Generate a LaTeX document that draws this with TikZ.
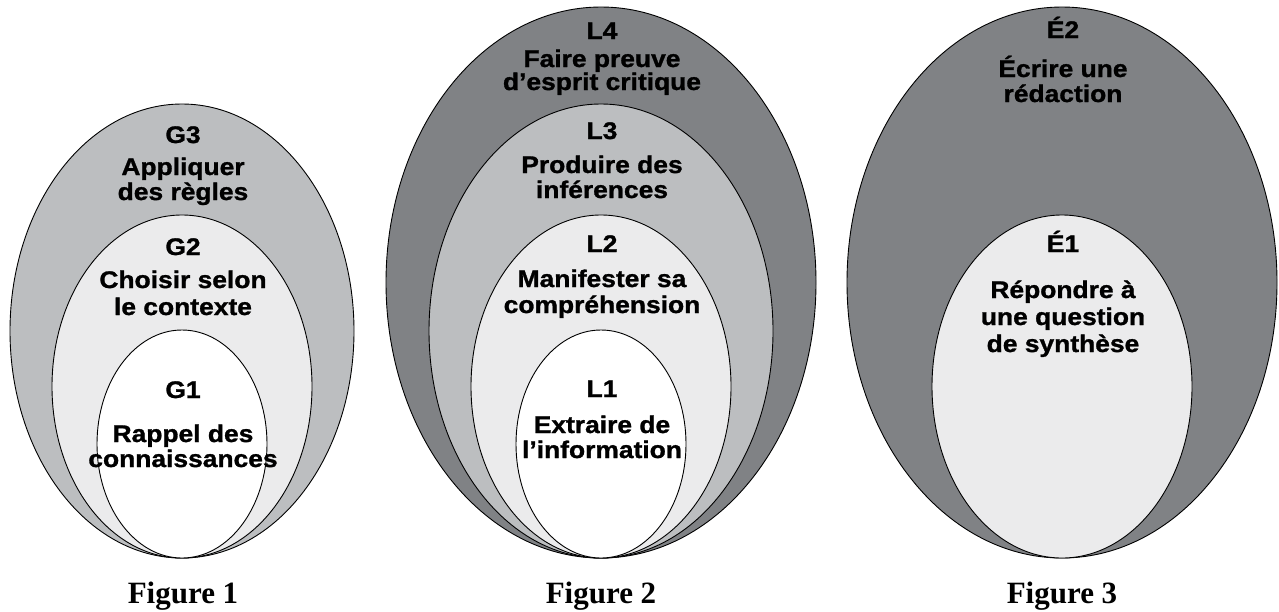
\documentclass[tikz,border=0pt]{standalone}
\usepackage{fontspec}
\setmainfont{Liberation Serif}
\newfontfamily\lblfont{Liberation Sans}[FakeStretch=1.1,FakeBold=1.2]
\definecolor{dark}{HTML}{808285}
\definecolor{mid}{HTML}{BCBEC0}
\definecolor{light}{HTML}{EBEBEC}
\begin{document}
\begin{tikzpicture}[x=1pt,y=-1pt,
  ring/.style={draw=black,line width=0.9pt},
  txt/.style={anchor=base,inner sep=0pt,font=\lblfont\bfseries\fontsize{24}{25}\selectfont},
  caption/.style={anchor=base,inner sep=0pt,font=\bfseries\fontsize{31}{33}\selectfont}]
\useasboundingbox (0,0) rectangle (1279,611);
% Figure 1
\draw[ring,fill=mid]   (182,331)   ellipse[x radius=172,y radius=227];
\draw[ring,fill=light] (182,386.5) ellipse[x radius=130,y radius=171.5];
\draw[ring,fill=white] (182,444)   ellipse[x radius=85,y radius=114];
\node[txt] (g3)  at (183,143) {G3};
\node[txt] (g3a) at (183,175) {Appliquer};
\node[txt] (g3b) at (183,200) {des règles};
\node[txt] (g2)  at (183,255) {G2};
\node[txt] (g2a) at (183,288) {Choisir selon};
\node[txt] (g2b) at (183,315) {le contexte};
\node[txt] (g1)  at (183,398) {G1};
\node[txt] (g1a) at (183,442) {Rappel des};
\node[txt] (g1b) at (183,467) {connaissances};
\node[caption] (f1) at (183,603) {Figure 1};
% Figure 2
\draw[ring,fill=dark]  (601,282.5) ellipse[x radius=215,y radius=275.5];
\draw[ring,fill=mid]   (601,331)   ellipse[x radius=172,y radius=227];
\draw[ring,fill=light] (601,386.5) ellipse[x radius=130,y radius=171.5];
\draw[ring,fill=white] (601,444)   ellipse[x radius=85,y radius=114];
\node[txt] (l4)  at (602,39)  {L4};
\node[txt] (l4a) at (602,67)  {Faire preuve};
\node[txt] (l4b) at (602,90)  {d’esprit critique};
\node[txt] (l3)  at (602,139) {L3};
\node[txt] (l3a) at (602,173) {Produire des};
\node[txt] (l3b) at (602,198) {inférences};
\node[txt] (l2)  at (602,252) {L2};
\node[txt] (l2a) at (602,287) {Manifester sa};
\node[txt] (l2b) at (602,313) {compréhension};
\node[txt] (l1)  at (602,397) {L1};
\node[txt] (l1a) at (602,433) {Extraire de};
\node[txt] (l1b) at (602,458) {l’information};
\node[caption] (f2) at (601,603) {Figure 2};
% Figure 3
\draw[ring,fill=dark]  (1062,282.5) ellipse[x radius=215,y radius=275.5];
\draw[ring,fill=light] (1062,386.5) ellipse[x radius=130,y radius=171.5];
\node[txt] (e2)  at (1063,38)  {É2};
\node[txt] (e2a) at (1063,77)  {Écrire une};
\node[txt] (e2b) at (1063,102) {rédaction};
\node[txt] (e1)  at (1063,252) {É1};
\node[txt] (e1a) at (1063,298) {Répondre à};
\node[txt] (e1b) at (1063,325) {une question};
\node[txt] (e1c) at (1063,352) {de synthèse};
\node[caption] (f3) at (1062,603) {Figure 3};
\end{tikzpicture}
\end{document}
